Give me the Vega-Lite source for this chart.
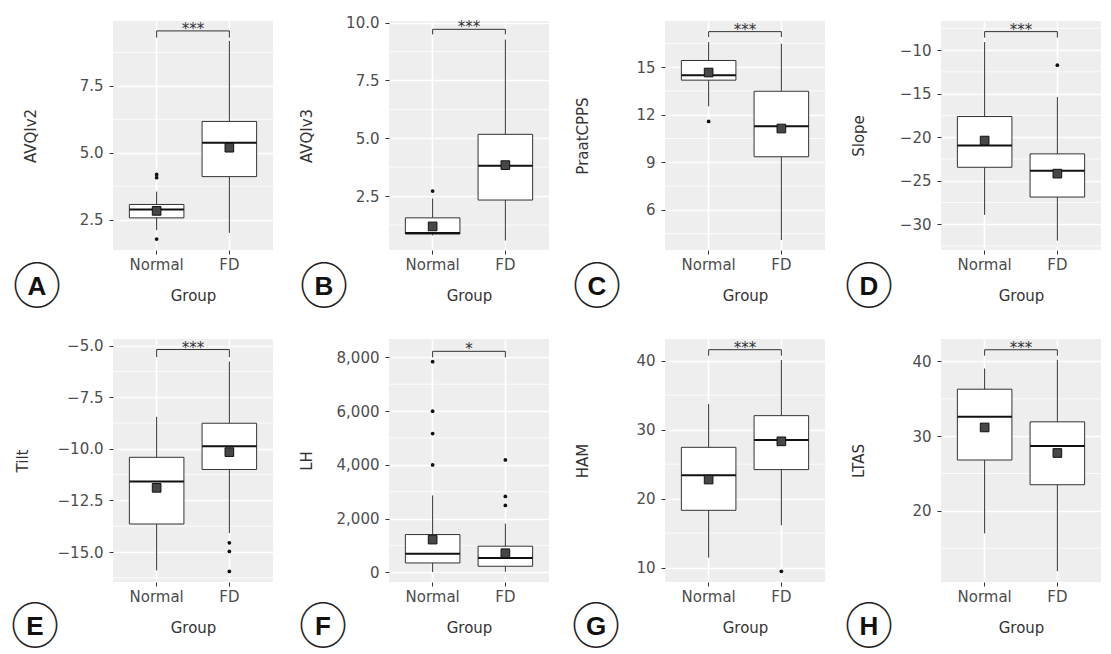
{
"$schema":"https://vega.github.io/schema/vega-lite/v6.json",
"background":"white",
"padding":{"left":10,"top":15,"right":0,"bottom":0},
"autosize":{"type":"pad"},
"columns":4,
"bounds":"flush",
"spacing":{"row":89,"column":116},
"datasets":{
"box":[
{"panel":"A","group":"Normal","lower":2.11,"q1":2.57,"median":2.88,"q3":3.07,"upper":3.55,"mean":2.83},
{"panel":"A","group":"FD","lower":2.01,"q1":4.11,"median":5.37,"q3":6.17,"upper":9.18,"mean":5.19},
{"panel":"B","group":"Normal","lower":0.80,"q1":0.86,"median":0.90,"q3":1.56,"upper":2.40,"mean":1.19},
{"panel":"B","group":"FD","lower":0.58,"q1":2.33,"median":3.81,"q3":5.17,"upper":9.27,"mean":3.84},
{"panel":"C","group":"Normal","lower":12.53,"q1":14.18,"median":14.49,"q3":15.42,"upper":16.58,"mean":14.66},
{"panel":"C","group":"FD","lower":4.10,"q1":9.35,"median":11.28,"q3":13.48,"upper":16.48,"mean":11.13},
{"panel":"D","group":"Normal","lower":-28.93,"q1":-23.46,"median":-20.97,"q3":-17.63,"upper":-9.08,"mean":-20.39},
{"panel":"D","group":"FD","lower":-31.89,"q1":-26.88,"median":-23.85,"q3":-21.92,"upper":-15.38,"mean":-24.19},
{"panel":"E","group":"Normal","lower":-15.89,"q1":-13.64,"median":-11.58,"q3":-10.41,"upper":-8.45,"mean":-11.89},
{"panel":"E","group":"FD","lower":-14.08,"q1":-11.0,"median":-9.87,"q3":-8.76,"upper":-5.77,"mean":-10.16},
{"panel":"F","group":"Normal","lower":10,"q1":347,"median":694,"q3":1404,"upper":2860,"mean":1217},
{"panel":"F","group":"FD","lower":20,"q1":224,"median":534,"q3":971,"upper":1814,"mean":709},
{"panel":"G","group":"Normal","lower":11.45,"q1":18.31,"median":23.39,"q3":27.44,"upper":33.72,"mean":22.77},
{"panel":"G","group":"FD","lower":16.14,"q1":24.21,"median":28.51,"q3":32.03,"upper":40.1,"mean":28.31},
{"panel":"H","group":"Normal","lower":16.99,"q1":26.81,"median":32.6,"q3":36.29,"upper":39.06,"mean":31.17},
{"panel":"H","group":"FD","lower":11.92,"q1":23.5,"median":28.69,"q3":31.92,"upper":40.23,"mean":27.75}
],
"out":[
{"panel":"A","group":"Normal","value":4.19},
{"panel":"A","group":"Normal","value":4.07},
{"panel":"A","group":"Normal","value":1.78},
{"panel":"B","group":"Normal","value":2.72},
{"panel":"C","group":"Normal","value":11.58},
{"panel":"D","group":"FD","value":-11.73},
{"panel":"E","group":"FD","value":-14.55},
{"panel":"E","group":"FD","value":-14.97},
{"panel":"E","group":"FD","value":-15.94},
{"panel":"F","group":"Normal","value":7839},
{"panel":"F","group":"Normal","value":5995},
{"panel":"F","group":"Normal","value":5163},
{"panel":"F","group":"Normal","value":3994},
{"panel":"F","group":"FD","value":4181},
{"panel":"F","group":"FD","value":2822},
{"panel":"F","group":"FD","value":2486},
{"panel":"G","group":"FD","value":9.46}
],
"minor":[
{"panel":"A","y":3.75},{"panel":"A","y":6.25},{"panel":"A","y":8.75},
{"panel":"B","y":1.25},{"panel":"B","y":3.75},{"panel":"B","y":6.25},{"panel":"B","y":8.75},
{"panel":"C","y":4.5},{"panel":"C","y":7.5},{"panel":"C","y":10.5},{"panel":"C","y":13.5},{"panel":"C","y":16.5},
{"panel":"D","y":-32.5},{"panel":"D","y":-27.5},{"panel":"D","y":-22.5},{"panel":"D","y":-17.5},{"panel":"D","y":-12.5},{"panel":"D","y":-7.5},
{"panel":"E","y":-16.25},{"panel":"E","y":-13.75},{"panel":"E","y":-11.25},{"panel":"E","y":-8.75},{"panel":"E","y":-6.25},
{"panel":"F","y":1000},{"panel":"F","y":3000},{"panel":"F","y":5000},{"panel":"F","y":7000},
{"panel":"G","y":15},{"panel":"G","y":25},{"panel":"G","y":35},
{"panel":"H","y":15},{"panel":"H","y":25},{"panel":"H","y":35}
],
"br":[
{"panel":"A","group":"Normal","y":9.3,"ord":1},{"panel":"A","group":"Normal","y":9.55,"ord":2},{"panel":"A","group":"FD","y":9.55,"ord":3},{"panel":"A","group":"FD","y":9.3,"ord":4},
{"panel":"B","group":"Normal","y":9.49,"ord":1},{"panel":"B","group":"Normal","y":9.71,"ord":2},{"panel":"B","group":"FD","y":9.71,"ord":3},{"panel":"B","group":"FD","y":9.49,"ord":4},
{"panel":"C","group":"Normal","y":16.9,"ord":1},{"panel":"C","group":"Normal","y":17.24,"ord":2},{"panel":"C","group":"FD","y":17.24,"ord":3},{"panel":"C","group":"FD","y":16.9,"ord":4},
{"panel":"D","group":"Normal","y":-8.57,"ord":1},{"panel":"D","group":"Normal","y":-7.88,"ord":2},{"panel":"D","group":"FD","y":-7.88,"ord":3},{"panel":"D","group":"FD","y":-8.57,"ord":4},
{"panel":"E","group":"Normal","y":-5.56,"ord":1},{"panel":"E","group":"Normal","y":-5.19,"ord":2},{"panel":"E","group":"FD","y":-5.19,"ord":3},{"panel":"E","group":"FD","y":-5.56,"ord":4},
{"panel":"F","group":"Normal","y":8000,"ord":1},{"panel":"F","group":"Normal","y":8224,"ord":2},{"panel":"F","group":"FD","y":8224,"ord":3},{"panel":"F","group":"FD","y":8000,"ord":4},
{"panel":"G","group":"Normal","y":40.72,"ord":1},{"panel":"G","group":"Normal","y":41.59,"ord":2},{"panel":"G","group":"FD","y":41.59,"ord":3},{"panel":"G","group":"FD","y":40.72,"ord":4},
{"panel":"H","group":"Normal","y":40.77,"ord":1},{"panel":"H","group":"Normal","y":41.57,"ord":2},{"panel":"H","group":"FD","y":41.57,"ord":3},{"panel":"H","group":"FD","y":40.77,"ord":4}
],
"lab":[
{"panel":"A","group":"Normal","y":9.55,"text":"***"},
{"panel":"B","group":"Normal","y":9.71,"text":"***"},
{"panel":"C","group":"Normal","y":17.24,"text":"***"},
{"panel":"D","group":"Normal","y":-7.88,"text":"***"},
{"panel":"E","group":"Normal","y":-5.19,"text":"***"},
{"panel":"F","group":"Normal","y":8224,"text":"*"},
{"panel":"G","group":"Normal","y":41.59,"text":"***"},
{"panel":"H","group":"Normal","y":41.57,"text":"***"}
]
},
"concat":[
{"width":160,"height":229,
"title":{"text":"A","subtitle":"◯","dx":-156,"offset":-29},
"layer":[
{"data":{"name":"minor"},"transform":[{"filter":"datum.panel==='A'"}],"mark":{"type":"rule","color":"#FFFFFF","strokeWidth":0.8},"encoding":{"y":{"field":"y","type":"quantitative","title":"AVQIv2"}}},
{"data":{"name":"box"},"transform":[{"filter":"datum.panel==='A'"}],"mark":{"type":"rule","color":"#333333","strokeWidth":1},"encoding":{"x":{"field":"group","type":"nominal","sort":["Normal","FD"],"title":"Group","scale":{"paddingInner":0.25,"paddingOuter":0.225}},"y":{"field":"lower","type":"quantitative","title":"AVQIv2","scale":{"domain":[1.37,9.92],"nice":false,"zero":false},"axis":{"values":[2.5,5,7.5],"format":".1f"}},"y2":{"field":"upper"}}},
{"data":{"name":"box"},"transform":[{"filter":"datum.panel==='A'"}],"mark":{"type":"bar","fill":"#FFFFFF","stroke":"#333333","strokeWidth":1},"encoding":{"x":{"field":"group","type":"nominal","sort":["Normal","FD"],"title":"Group"},"y":{"field":"q1","type":"quantitative","title":"AVQIv2"},"y2":{"field":"q3"}}},
{"data":{"name":"box"},"transform":[{"filter":"datum.panel==='A'"}],"mark":{"type":"bar","fill":"#FFFFFF","fillOpacity":0,"stroke":"#111111","strokeWidth":2},"encoding":{"x":{"field":"group","type":"nominal","sort":["Normal","FD"],"title":"Group"},"y":{"field":"median","type":"quantitative","title":"AVQIv2"},"y2":{"field":"median"}}},
{"data":{"name":"box"},"transform":[{"filter":"datum.panel==='A'"}],"mark":{"type":"point","shape":"square","filled":true,"size":75,"fill":"#474747","stroke":"#111111","strokeWidth":1,"opacity":1},"encoding":{"x":{"field":"group","type":"nominal","sort":["Normal","FD"],"title":"Group"},"y":{"field":"mean","type":"quantitative","title":"AVQIv2"}}},
{"data":{"name":"out"},"transform":[{"filter":"datum.panel==='A'"}],"mark":{"type":"point","shape":"circle","filled":true,"size":14,"color":"#111111","opacity":1},"encoding":{"x":{"field":"group","type":"nominal","sort":["Normal","FD"],"title":"Group"},"y":{"field":"value","type":"quantitative","title":"AVQIv2"}}},
{"data":{"name":"br"},"transform":[{"filter":"datum.panel==='A'"}],"mark":{"type":"line","color":"#333333","strokeWidth":1},"encoding":{"x":{"field":"group","type":"nominal","sort":["Normal","FD"],"title":"Group"},"y":{"field":"y","type":"quantitative","title":"AVQIv2"},"order":{"field":"ord"}}},
{"data":{"name":"lab"},"transform":[{"filter":"datum.panel==='A'"}],"mark":{"type":"text","fontSize":15,"color":"#333333","baseline":"alphabetic","dy":3},"encoding":{"x":{"field":"group","type":"nominal","sort":["Normal","FD"],"title":"Group","bandPosition":1.1667},"y":{"field":"y","type":"quantitative","title":"AVQIv2"},"text":{"field":"text"}}}
]},
{"width":160,"height":229,
"title":{"text":"B","subtitle":"◯","dx":-145,"offset":-29},
"layer":[
{"data":{"name":"minor"},"transform":[{"filter":"datum.panel==='B'"}],"mark":{"type":"rule","color":"#FFFFFF","strokeWidth":0.8},"encoding":{"y":{"field":"y","type":"quantitative","title":"AVQIv3"}}},
{"data":{"name":"box"},"transform":[{"filter":"datum.panel==='B'"}],"mark":{"type":"rule","color":"#333333","strokeWidth":1},"encoding":{"x":{"field":"group","type":"nominal","sort":["Normal","FD"],"title":"Group","scale":{"paddingInner":0.25,"paddingOuter":0.225}},"y":{"field":"lower","type":"quantitative","title":"AVQIv3","scale":{"domain":[0.17,10.07],"nice":false,"zero":false},"axis":{"values":[2.5,5,7.5,10],"format":".1f"}},"y2":{"field":"upper"}}},
{"data":{"name":"box"},"transform":[{"filter":"datum.panel==='B'"}],"mark":{"type":"bar","fill":"#FFFFFF","stroke":"#333333","strokeWidth":1},"encoding":{"x":{"field":"group","type":"nominal","sort":["Normal","FD"],"title":"Group"},"y":{"field":"q1","type":"quantitative","title":"AVQIv3"},"y2":{"field":"q3"}}},
{"data":{"name":"box"},"transform":[{"filter":"datum.panel==='B'"}],"mark":{"type":"bar","fill":"#FFFFFF","fillOpacity":0,"stroke":"#111111","strokeWidth":2},"encoding":{"x":{"field":"group","type":"nominal","sort":["Normal","FD"],"title":"Group"},"y":{"field":"median","type":"quantitative","title":"AVQIv3"},"y2":{"field":"median"}}},
{"data":{"name":"box"},"transform":[{"filter":"datum.panel==='B'"}],"mark":{"type":"point","shape":"square","filled":true,"size":75,"fill":"#474747","stroke":"#111111","strokeWidth":1,"opacity":1},"encoding":{"x":{"field":"group","type":"nominal","sort":["Normal","FD"],"title":"Group"},"y":{"field":"mean","type":"quantitative","title":"AVQIv3"}}},
{"data":{"name":"out"},"transform":[{"filter":"datum.panel==='B'"}],"mark":{"type":"point","shape":"circle","filled":true,"size":14,"color":"#111111","opacity":1},"encoding":{"x":{"field":"group","type":"nominal","sort":["Normal","FD"],"title":"Group"},"y":{"field":"value","type":"quantitative","title":"AVQIv3"}}},
{"data":{"name":"br"},"transform":[{"filter":"datum.panel==='B'"}],"mark":{"type":"line","color":"#333333","strokeWidth":1},"encoding":{"x":{"field":"group","type":"nominal","sort":["Normal","FD"],"title":"Group"},"y":{"field":"y","type":"quantitative","title":"AVQIv3"},"order":{"field":"ord"}}},
{"data":{"name":"lab"},"transform":[{"filter":"datum.panel==='B'"}],"mark":{"type":"text","fontSize":15,"color":"#333333","baseline":"alphabetic","dy":3},"encoding":{"x":{"field":"group","type":"nominal","sort":["Normal","FD"],"title":"Group","bandPosition":1.1667},"y":{"field":"y","type":"quantitative","title":"AVQIv3"},"text":{"field":"text"}}}
]},
{"width":160,"height":229,
"title":{"text":"C","subtitle":"◯","dx":-148,"offset":-29},
"layer":[
{"data":{"name":"minor"},"transform":[{"filter":"datum.panel==='C'"}],"mark":{"type":"rule","color":"#FFFFFF","strokeWidth":0.8},"encoding":{"y":{"field":"y","type":"quantitative","title":"PraatCPPS"}}},
{"data":{"name":"box"},"transform":[{"filter":"datum.panel==='C'"}],"mark":{"type":"rule","color":"#333333","strokeWidth":1},"encoding":{"x":{"field":"group","type":"nominal","sort":["Normal","FD"],"title":"Group","scale":{"paddingInner":0.25,"paddingOuter":0.225}},"y":{"field":"lower","type":"quantitative","title":"PraatCPPS","scale":{"domain":[3.47,17.91],"nice":false,"zero":false},"axis":{"values":[6,9,12,15],"format":"d"}},"y2":{"field":"upper"}}},
{"data":{"name":"box"},"transform":[{"filter":"datum.panel==='C'"}],"mark":{"type":"bar","fill":"#FFFFFF","stroke":"#333333","strokeWidth":1},"encoding":{"x":{"field":"group","type":"nominal","sort":["Normal","FD"],"title":"Group"},"y":{"field":"q1","type":"quantitative","title":"PraatCPPS"},"y2":{"field":"q3"}}},
{"data":{"name":"box"},"transform":[{"filter":"datum.panel==='C'"}],"mark":{"type":"bar","fill":"#FFFFFF","fillOpacity":0,"stroke":"#111111","strokeWidth":2},"encoding":{"x":{"field":"group","type":"nominal","sort":["Normal","FD"],"title":"Group"},"y":{"field":"median","type":"quantitative","title":"PraatCPPS"},"y2":{"field":"median"}}},
{"data":{"name":"box"},"transform":[{"filter":"datum.panel==='C'"}],"mark":{"type":"point","shape":"square","filled":true,"size":75,"fill":"#474747","stroke":"#111111","strokeWidth":1,"opacity":1},"encoding":{"x":{"field":"group","type":"nominal","sort":["Normal","FD"],"title":"Group"},"y":{"field":"mean","type":"quantitative","title":"PraatCPPS"}}},
{"data":{"name":"out"},"transform":[{"filter":"datum.panel==='C'"}],"mark":{"type":"point","shape":"circle","filled":true,"size":14,"color":"#111111","opacity":1},"encoding":{"x":{"field":"group","type":"nominal","sort":["Normal","FD"],"title":"Group"},"y":{"field":"value","type":"quantitative","title":"PraatCPPS"}}},
{"data":{"name":"br"},"transform":[{"filter":"datum.panel==='C'"}],"mark":{"type":"line","color":"#333333","strokeWidth":1},"encoding":{"x":{"field":"group","type":"nominal","sort":["Normal","FD"],"title":"Group"},"y":{"field":"y","type":"quantitative","title":"PraatCPPS"},"order":{"field":"ord"}}},
{"data":{"name":"lab"},"transform":[{"filter":"datum.panel==='C'"}],"mark":{"type":"text","fontSize":15,"color":"#333333","baseline":"alphabetic","dy":3},"encoding":{"x":{"field":"group","type":"nominal","sort":["Normal","FD"],"title":"Group","bandPosition":1.1667},"y":{"field":"y","type":"quantitative","title":"PraatCPPS"},"text":{"field":"text"}}}
]},
{"width":160,"height":229,
"title":{"text":"D","subtitle":"◯","dx":-152,"offset":-29},
"layer":[
{"data":{"name":"minor"},"transform":[{"filter":"datum.panel==='D'"}],"mark":{"type":"rule","color":"#FFFFFF","strokeWidth":0.8},"encoding":{"y":{"field":"y","type":"quantitative","title":"Slope"}}},
{"data":{"name":"box"},"transform":[{"filter":"datum.panel==='D'"}],"mark":{"type":"rule","color":"#333333","strokeWidth":1},"encoding":{"x":{"field":"group","type":"nominal","sort":["Normal","FD"],"title":"Group","scale":{"paddingInner":0.25,"paddingOuter":0.225}},"y":{"field":"lower","type":"quantitative","title":"Slope","scale":{"domain":[-32.96,-6.66],"nice":false,"zero":false},"axis":{"values":[-30,-25,-20,-15,-10],"format":"d"}},"y2":{"field":"upper"}}},
{"data":{"name":"box"},"transform":[{"filter":"datum.panel==='D'"}],"mark":{"type":"bar","fill":"#FFFFFF","stroke":"#333333","strokeWidth":1},"encoding":{"x":{"field":"group","type":"nominal","sort":["Normal","FD"],"title":"Group"},"y":{"field":"q1","type":"quantitative","title":"Slope"},"y2":{"field":"q3"}}},
{"data":{"name":"box"},"transform":[{"filter":"datum.panel==='D'"}],"mark":{"type":"bar","fill":"#FFFFFF","fillOpacity":0,"stroke":"#111111","strokeWidth":2},"encoding":{"x":{"field":"group","type":"nominal","sort":["Normal","FD"],"title":"Group"},"y":{"field":"median","type":"quantitative","title":"Slope"},"y2":{"field":"median"}}},
{"data":{"name":"box"},"transform":[{"filter":"datum.panel==='D'"}],"mark":{"type":"point","shape":"square","filled":true,"size":75,"fill":"#474747","stroke":"#111111","strokeWidth":1,"opacity":1},"encoding":{"x":{"field":"group","type":"nominal","sort":["Normal","FD"],"title":"Group"},"y":{"field":"mean","type":"quantitative","title":"Slope"}}},
{"data":{"name":"out"},"transform":[{"filter":"datum.panel==='D'"}],"mark":{"type":"point","shape":"circle","filled":true,"size":14,"color":"#111111","opacity":1},"encoding":{"x":{"field":"group","type":"nominal","sort":["Normal","FD"],"title":"Group"},"y":{"field":"value","type":"quantitative","title":"Slope"}}},
{"data":{"name":"br"},"transform":[{"filter":"datum.panel==='D'"}],"mark":{"type":"line","color":"#333333","strokeWidth":1},"encoding":{"x":{"field":"group","type":"nominal","sort":["Normal","FD"],"title":"Group"},"y":{"field":"y","type":"quantitative","title":"Slope"},"order":{"field":"ord"}}},
{"data":{"name":"lab"},"transform":[{"filter":"datum.panel==='D'"}],"mark":{"type":"text","fontSize":15,"color":"#333333","baseline":"alphabetic","dy":3},"encoding":{"x":{"field":"group","type":"nominal","sort":["Normal","FD"],"title":"Group","bandPosition":1.1667},"y":{"field":"y","type":"quantitative","title":"Slope"},"text":{"field":"text"}}}
]},
{"width":160,"height":243,
"title":{"text":"E","subtitle":"◯","dx":-158,"offset":-21},
"layer":[
{"data":{"name":"minor"},"transform":[{"filter":"datum.panel==='E'"}],"mark":{"type":"rule","color":"#FFFFFF","strokeWidth":0.8},"encoding":{"y":{"field":"y","type":"quantitative","title":"Tilt"}}},
{"data":{"name":"box"},"transform":[{"filter":"datum.panel==='E'"}],"mark":{"type":"rule","color":"#333333","strokeWidth":1},"encoding":{"x":{"field":"group","type":"nominal","sort":["Normal","FD"],"title":"Group","scale":{"paddingInner":0.25,"paddingOuter":0.225}},"y":{"field":"lower","type":"quantitative","title":"Tilt","scale":{"domain":[-16.45,-4.68],"nice":false,"zero":false},"axis":{"titlePadding":21,"values":[-15,-12.5,-10,-7.5,-5],"format":".1f"}},"y2":{"field":"upper"}}},
{"data":{"name":"box"},"transform":[{"filter":"datum.panel==='E'"}],"mark":{"type":"bar","fill":"#FFFFFF","stroke":"#333333","strokeWidth":1},"encoding":{"x":{"field":"group","type":"nominal","sort":["Normal","FD"],"title":"Group"},"y":{"field":"q1","type":"quantitative","title":"Tilt"},"y2":{"field":"q3"}}},
{"data":{"name":"box"},"transform":[{"filter":"datum.panel==='E'"}],"mark":{"type":"bar","fill":"#FFFFFF","fillOpacity":0,"stroke":"#111111","strokeWidth":2},"encoding":{"x":{"field":"group","type":"nominal","sort":["Normal","FD"],"title":"Group"},"y":{"field":"median","type":"quantitative","title":"Tilt"},"y2":{"field":"median"}}},
{"data":{"name":"box"},"transform":[{"filter":"datum.panel==='E'"}],"mark":{"type":"point","shape":"square","filled":true,"size":75,"fill":"#474747","stroke":"#111111","strokeWidth":1,"opacity":1},"encoding":{"x":{"field":"group","type":"nominal","sort":["Normal","FD"],"title":"Group"},"y":{"field":"mean","type":"quantitative","title":"Tilt"}}},
{"data":{"name":"out"},"transform":[{"filter":"datum.panel==='E'"}],"mark":{"type":"point","shape":"circle","filled":true,"size":14,"color":"#111111","opacity":1},"encoding":{"x":{"field":"group","type":"nominal","sort":["Normal","FD"],"title":"Group"},"y":{"field":"value","type":"quantitative","title":"Tilt"}}},
{"data":{"name":"br"},"transform":[{"filter":"datum.panel==='E'"}],"mark":{"type":"line","color":"#333333","strokeWidth":1},"encoding":{"x":{"field":"group","type":"nominal","sort":["Normal","FD"],"title":"Group"},"y":{"field":"y","type":"quantitative","title":"Tilt"},"order":{"field":"ord"}}},
{"data":{"name":"lab"},"transform":[{"filter":"datum.panel==='E'"}],"mark":{"type":"text","fontSize":15,"color":"#333333","baseline":"alphabetic","dy":3},"encoding":{"x":{"field":"group","type":"nominal","sort":["Normal","FD"],"title":"Group","bandPosition":1.1667},"y":{"field":"y","type":"quantitative","title":"Tilt"},"text":{"field":"text"}}}
]},
{"width":160,"height":243,
"title":{"text":"F","subtitle":"◯","dx":-146,"offset":-21},
"layer":[
{"data":{"name":"minor"},"transform":[{"filter":"datum.panel==='F'"}],"mark":{"type":"rule","color":"#FFFFFF","strokeWidth":0.8},"encoding":{"y":{"field":"y","type":"quantitative","title":"LH"}}},
{"data":{"name":"box"},"transform":[{"filter":"datum.panel==='F'"}],"mark":{"type":"rule","color":"#333333","strokeWidth":1},"encoding":{"x":{"field":"group","type":"nominal","sort":["Normal","FD"],"title":"Group","scale":{"paddingInner":0.25,"paddingOuter":0.225}},"y":{"field":"lower","type":"quantitative","title":"LH","scale":{"domain":[-362,8683],"nice":false,"zero":false},"axis":{"values":[0,2000,4000,6000,8000],"format":",d"}},"y2":{"field":"upper"}}},
{"data":{"name":"box"},"transform":[{"filter":"datum.panel==='F'"}],"mark":{"type":"bar","fill":"#FFFFFF","stroke":"#333333","strokeWidth":1},"encoding":{"x":{"field":"group","type":"nominal","sort":["Normal","FD"],"title":"Group"},"y":{"field":"q1","type":"quantitative","title":"LH"},"y2":{"field":"q3"}}},
{"data":{"name":"box"},"transform":[{"filter":"datum.panel==='F'"}],"mark":{"type":"bar","fill":"#FFFFFF","fillOpacity":0,"stroke":"#111111","strokeWidth":2},"encoding":{"x":{"field":"group","type":"nominal","sort":["Normal","FD"],"title":"Group"},"y":{"field":"median","type":"quantitative","title":"LH"},"y2":{"field":"median"}}},
{"data":{"name":"box"},"transform":[{"filter":"datum.panel==='F'"}],"mark":{"type":"point","shape":"square","filled":true,"size":75,"fill":"#474747","stroke":"#111111","strokeWidth":1,"opacity":1},"encoding":{"x":{"field":"group","type":"nominal","sort":["Normal","FD"],"title":"Group"},"y":{"field":"mean","type":"quantitative","title":"LH"}}},
{"data":{"name":"out"},"transform":[{"filter":"datum.panel==='F'"}],"mark":{"type":"point","shape":"circle","filled":true,"size":14,"color":"#111111","opacity":1},"encoding":{"x":{"field":"group","type":"nominal","sort":["Normal","FD"],"title":"Group"},"y":{"field":"value","type":"quantitative","title":"LH"}}},
{"data":{"name":"br"},"transform":[{"filter":"datum.panel==='F'"}],"mark":{"type":"line","color":"#333333","strokeWidth":1},"encoding":{"x":{"field":"group","type":"nominal","sort":["Normal","FD"],"title":"Group"},"y":{"field":"y","type":"quantitative","title":"LH"},"order":{"field":"ord"}}},
{"data":{"name":"lab"},"transform":[{"filter":"datum.panel==='F'"}],"mark":{"type":"text","fontSize":15,"color":"#333333","baseline":"alphabetic","dy":3},"encoding":{"x":{"field":"group","type":"nominal","sort":["Normal","FD"],"title":"Group","bandPosition":1.1667},"y":{"field":"y","type":"quantitative","title":"LH"},"text":{"field":"text"}}}
]},
{"width":160,"height":243,
"title":{"text":"G","subtitle":"◯","dx":-149,"offset":-21},
"layer":[
{"data":{"name":"minor"},"transform":[{"filter":"datum.panel==='G'"}],"mark":{"type":"rule","color":"#FFFFFF","strokeWidth":0.8},"encoding":{"y":{"field":"y","type":"quantitative","title":"HAM"}}},
{"data":{"name":"box"},"transform":[{"filter":"datum.panel==='G'"}],"mark":{"type":"rule","color":"#333333","strokeWidth":1},"encoding":{"x":{"field":"group","type":"nominal","sort":["Normal","FD"],"title":"Group","scale":{"paddingInner":0.25,"paddingOuter":0.225}},"y":{"field":"lower","type":"quantitative","title":"HAM","scale":{"domain":[7.92,43.14],"nice":false,"zero":false},"axis":{"values":[10,20,30,40],"format":"d"}},"y2":{"field":"upper"}}},
{"data":{"name":"box"},"transform":[{"filter":"datum.panel==='G'"}],"mark":{"type":"bar","fill":"#FFFFFF","stroke":"#333333","strokeWidth":1},"encoding":{"x":{"field":"group","type":"nominal","sort":["Normal","FD"],"title":"Group"},"y":{"field":"q1","type":"quantitative","title":"HAM"},"y2":{"field":"q3"}}},
{"data":{"name":"box"},"transform":[{"filter":"datum.panel==='G'"}],"mark":{"type":"bar","fill":"#FFFFFF","fillOpacity":0,"stroke":"#111111","strokeWidth":2},"encoding":{"x":{"field":"group","type":"nominal","sort":["Normal","FD"],"title":"Group"},"y":{"field":"median","type":"quantitative","title":"HAM"},"y2":{"field":"median"}}},
{"data":{"name":"box"},"transform":[{"filter":"datum.panel==='G'"}],"mark":{"type":"point","shape":"square","filled":true,"size":75,"fill":"#474747","stroke":"#111111","strokeWidth":1,"opacity":1},"encoding":{"x":{"field":"group","type":"nominal","sort":["Normal","FD"],"title":"Group"},"y":{"field":"mean","type":"quantitative","title":"HAM"}}},
{"data":{"name":"out"},"transform":[{"filter":"datum.panel==='G'"}],"mark":{"type":"point","shape":"circle","filled":true,"size":14,"color":"#111111","opacity":1},"encoding":{"x":{"field":"group","type":"nominal","sort":["Normal","FD"],"title":"Group"},"y":{"field":"value","type":"quantitative","title":"HAM"}}},
{"data":{"name":"br"},"transform":[{"filter":"datum.panel==='G'"}],"mark":{"type":"line","color":"#333333","strokeWidth":1},"encoding":{"x":{"field":"group","type":"nominal","sort":["Normal","FD"],"title":"Group"},"y":{"field":"y","type":"quantitative","title":"HAM"},"order":{"field":"ord"}}},
{"data":{"name":"lab"},"transform":[{"filter":"datum.panel==='G'"}],"mark":{"type":"text","fontSize":15,"color":"#333333","baseline":"alphabetic","dy":3},"encoding":{"x":{"field":"group","type":"nominal","sort":["Normal","FD"],"title":"Group","bandPosition":1.1667},"y":{"field":"y","type":"quantitative","title":"HAM"},"text":{"field":"text"}}}
]},
{"width":160,"height":243,
"title":{"text":"H","subtitle":"◯","dx":-152,"offset":-21},
"layer":[
{"data":{"name":"minor"},"transform":[{"filter":"datum.panel==='H'"}],"mark":{"type":"rule","color":"#FFFFFF","strokeWidth":0.8},"encoding":{"y":{"field":"y","type":"quantitative","title":"LTAS"}}},
{"data":{"name":"box"},"transform":[{"filter":"datum.panel==='H'"}],"mark":{"type":"rule","color":"#333333","strokeWidth":1},"encoding":{"x":{"field":"group","type":"nominal","sort":["Normal","FD"],"title":"Group","scale":{"paddingInner":0.25,"paddingOuter":0.225}},"y":{"field":"lower","type":"quantitative","title":"LTAS","scale":{"domain":[10.48,43.01],"nice":false,"zero":false},"axis":{"values":[20,30,40],"format":"d"}},"y2":{"field":"upper"}}},
{"data":{"name":"box"},"transform":[{"filter":"datum.panel==='H'"}],"mark":{"type":"bar","fill":"#FFFFFF","stroke":"#333333","strokeWidth":1},"encoding":{"x":{"field":"group","type":"nominal","sort":["Normal","FD"],"title":"Group"},"y":{"field":"q1","type":"quantitative","title":"LTAS"},"y2":{"field":"q3"}}},
{"data":{"name":"box"},"transform":[{"filter":"datum.panel==='H'"}],"mark":{"type":"bar","fill":"#FFFFFF","fillOpacity":0,"stroke":"#111111","strokeWidth":2},"encoding":{"x":{"field":"group","type":"nominal","sort":["Normal","FD"],"title":"Group"},"y":{"field":"median","type":"quantitative","title":"LTAS"},"y2":{"field":"median"}}},
{"data":{"name":"box"},"transform":[{"filter":"datum.panel==='H'"}],"mark":{"type":"point","shape":"square","filled":true,"size":75,"fill":"#474747","stroke":"#111111","strokeWidth":1,"opacity":1},"encoding":{"x":{"field":"group","type":"nominal","sort":["Normal","FD"],"title":"Group"},"y":{"field":"mean","type":"quantitative","title":"LTAS"}}},
{"data":{"name":"out"},"transform":[{"filter":"datum.panel==='H'"}],"mark":{"type":"point","shape":"circle","filled":true,"size":14,"color":"#111111","opacity":1},"encoding":{"x":{"field":"group","type":"nominal","sort":["Normal","FD"],"title":"Group"},"y":{"field":"value","type":"quantitative","title":"LTAS"}}},
{"data":{"name":"br"},"transform":[{"filter":"datum.panel==='H'"}],"mark":{"type":"line","color":"#333333","strokeWidth":1},"encoding":{"x":{"field":"group","type":"nominal","sort":["Normal","FD"],"title":"Group"},"y":{"field":"y","type":"quantitative","title":"LTAS"},"order":{"field":"ord"}}},
{"data":{"name":"lab"},"transform":[{"filter":"datum.panel==='H'"}],"mark":{"type":"text","fontSize":15,"color":"#333333","baseline":"alphabetic","dy":3},"encoding":{"x":{"field":"group","type":"nominal","sort":["Normal","FD"],"title":"Group","bandPosition":1.1667},"y":{"field":"y","type":"quantitative","title":"LTAS"},"text":{"field":"text"}}}
]}
],
"config":{
"font":"DejaVu Sans",
"view":{"fill":"#EEEEEE","stroke":null},
"axis":{"domain":false,"grid":true,"gridColor":"#FFFFFF","gridWidth":1.6,"tickColor":"#333333","tickSize":4,"tickWidth":1,"labelOverlap":false,"labelFont":"DejaVu Sans","labelFontSize":15,"labelColor":"#4D4D4D","titleFont":"DejaVu Sans","titleFontSize":15,"titleFontWeight":"normal","titleColor":"#333333"},
"axisX":{"labelAngle":0,"labelPadding":3,"titlePadding":16},
"axisY":{"labelPadding":6,"minExtent":62,"maxExtent":62,"titlePadding":13},
"title":{"orient":"bottom","anchor":"middle","frame":"group","baseline":"top","font":"Liberation Sans","fontSize":26,"fontWeight":"bold","color":"#111111","subtitleFont":"Noto Sans CJK SC","subtitleFontSize":48,"subtitleColor":"#222222","subtitlePadding":-35}
}
}
